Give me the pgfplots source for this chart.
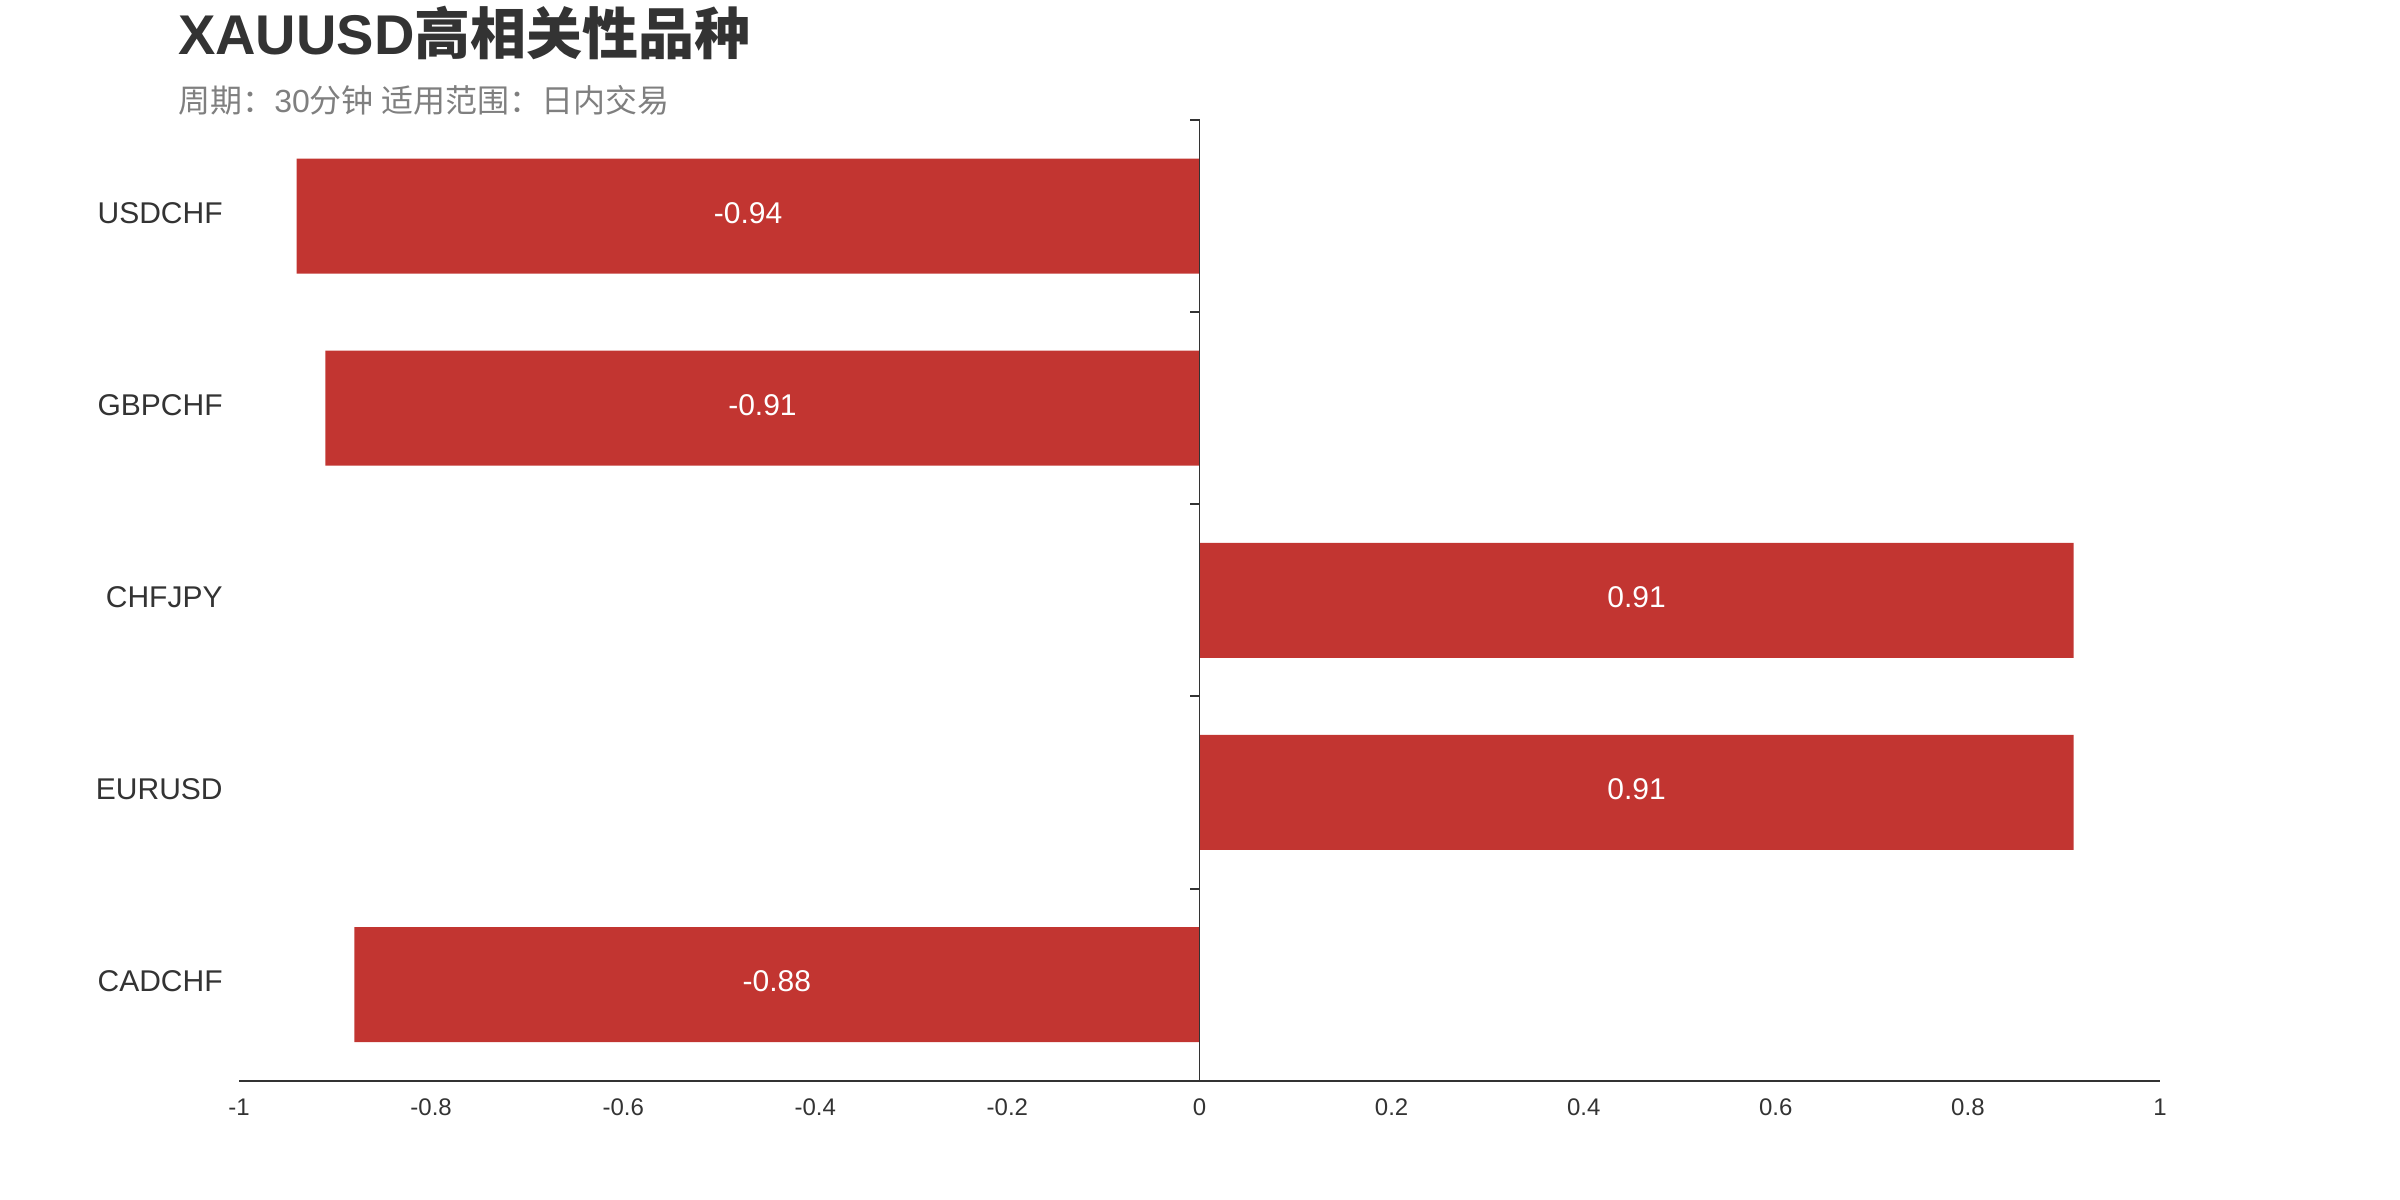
\documentclass[border=0pt]{standalone}
\usepackage{pgfplots}
\usepackage{pgfplotstable}
\pgfplotsset{compat=1.18}
\usepackage{fontspec}
\setmainfont{Liberation Sans}
\newfontfamily\cjk{Noto Sans CJK SC}
\definecolor{barred}{HTML}{C23531}
\definecolor{txt}{HTML}{333333}
\definecolor{subgray}{HTML}{7F7F7F}

% correlation of each pair with XAUUSD, pos = row centre (top row first)
\pgfplotstableread{
pair   v     pos
USDCHF -0.94 4.5
GBPCHF -0.91 3.5
CHFJPY 0.91  2.5
EURUSD 0.91  1.5
CADCHF -0.88 0.5
}\corr

\begin{document}
\begin{tikzpicture}[x=1pt,y=1pt]
\useasboundingbox (0,0) rectangle (1200,600);
\node[anchor=base west, inner sep=0pt, text=txt,
      font=\fontsize{28}{32}\selectfont\bfseries] at (88.8,572.5)
  {XAUUSD{\cjk 高相关性品种}};
\node[anchor=base west, inner sep=0pt, text=subgray,
      font=\fontsize{16}{19}\selectfont] at (89,543.5)
  {{\cjk 周期：}30{\cjk 分钟 适用范围：日内交易}};
\begin{axis}[
    at={(119.5pt,59.65pt)}, anchor=south west,
    scale only axis, width=960.5pt, height=480.35pt,
    xmin=-1, xmax=1, ymin=0, ymax=5,
    clip=false,
    axis x line=bottom, axis y line=left,
    x axis line style={-, draw=txt, line width=1pt},
    y axis line style={draw=none},
    xtick={-1,-0.8,-0.6,-0.4,-0.2,0,0.2,0.4,0.6,0.8,1},
    xticklabels={-1,-0.8,-0.6,-0.4,-0.2,0,0.2,0.4,0.6,0.8,1},
    ytick={0.5,1.5,2.5,3.5,4.5},
    yticklabels={CADCHF,EURUSD,CHFJPY,GBPCHF,USDCHF},
    major tick length=0pt,
    tick style={draw=none},
    xticklabel style={font=\fontsize{12}{14}\selectfont, text=txt, anchor=north, inner sep=0pt, yshift=-9pt},
    yticklabel style={font=\fontsize{15}{18}\selectfont, text=txt, anchor=east, inner sep=0pt, xshift=-8pt, yshift=1.5pt},
  ]
  \addplot[xbar, bar width=57.5pt, fill=barred, draw=none] table[x=v, y=pos] {\corr};
  \addplot[only marks, mark=*, mark size=0pt, mark options={draw=none, fill=none},
    nodes near coords, point meta=explicit symbolic,
    nodes near coords style={anchor=center, text=white, inner sep=0pt, yshift=1.5pt, font=\fontsize{15}{18}\selectfont}]
    table[x expr=\thisrow{v}/2, y=pos, meta=v] {\corr};
  \draw[txt, line width=0.7pt] (axis cs:0,0) -- (axis cs:0,5);
  \pgfplotsinvokeforeach{0,1,2,3,4,5}{
    \draw[txt, line width=1pt] (axis cs:0,#1) -- ([xshift=-5pt]axis cs:0,#1);
  }
\end{axis}
\end{tikzpicture}
\end{document}
